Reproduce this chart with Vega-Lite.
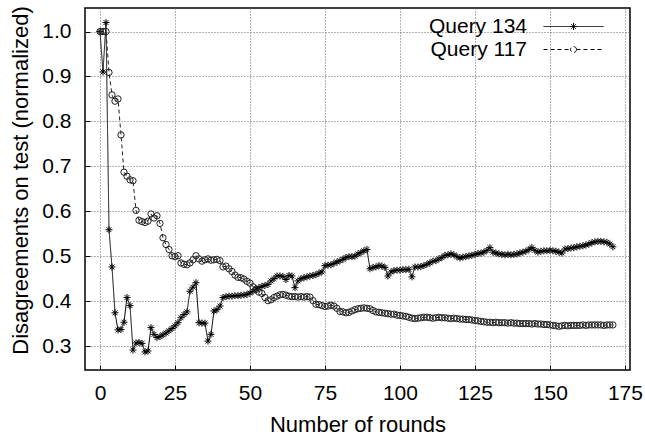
{
  "$schema": "https://vega.github.io/schema/vega-lite/v6.json",
  "width": 545,
  "height": 362,
  "autosize": {"type": "none"},
  "padding": {"left": 85, "top": 8, "right": 15, "bottom": 67},
  "background": "white",
  "config": {
    "font": "Liberation Sans",
    "view": {"stroke": "black", "strokeWidth": 1.5},
    "axis": {
      "domain": false,
      "grid": true,
      "gridColor": "#666",
      "gridDash": [1, 2],
      "gridWidth": 1,
      "gridOpacity": 1,
      "ticks": true,
      "tickColor": "black",
      "tickSize": -5,
      "tickWidth": 1,
      "labelColor": "black",
      "labelFont": "Liberation Sans",
      "labelFontSize": 21,
      "titleColor": "black",
      "titleFont": "Liberation Sans",
      "titleFontSize": 22,
      "titleFontWeight": "normal"
    }
  },
  "datasets": {
    "q134": [
      {"r":0,"v":1.0},{"r":1,"v":0.91},{"r":2,"v":1.02},{"r":3,"v":0.559},{"r":4,"v":0.476},{"r":5,"v":0.374},{"r":6,"v":0.336},{"r":7,"v":0.337},{"r":8,"v":0.353},{"r":9,"v":0.408},
      {"r":10,"v":0.39},{"r":11,"v":0.291},{"r":12,"v":0.307},{"r":13,"v":0.308},{"r":14,"v":0.306},{"r":15,"v":0.287},{"r":16,"v":0.289},{"r":17,"v":0.341},{"r":18,"v":0.326},{"r":19,"v":0.319},
      {"r":20,"v":0.321},{"r":21,"v":0.325},{"r":22,"v":0.329},{"r":23,"v":0.334},{"r":24,"v":0.339},{"r":25,"v":0.345},{"r":26,"v":0.352},{"r":27,"v":0.363},{"r":28,"v":0.37},{"r":29,"v":0.376},
      {"r":30,"v":0.422},{"r":31,"v":0.431},{"r":32,"v":0.441},{"r":33,"v":0.352},{"r":34,"v":0.351},{"r":35,"v":0.351},{"r":36,"v":0.311},{"r":37,"v":0.326},{"r":38,"v":0.378},{"r":39,"v":0.381},
      {"r":40,"v":0.389},{"r":41,"v":0.408},{"r":42,"v":0.41},{"r":43,"v":0.411},{"r":44,"v":0.411},{"r":45,"v":0.412},{"r":46,"v":0.412},{"r":47,"v":0.413},{"r":48,"v":0.414},{"r":49,"v":0.415},
      {"r":50,"v":0.418},{"r":51,"v":0.422},{"r":52,"v":0.427},{"r":53,"v":0.43},{"r":54,"v":0.433},{"r":55,"v":0.435},{"r":56,"v":0.437},{"r":57,"v":0.445},{"r":58,"v":0.45},{"r":59,"v":0.456},
      {"r":60,"v":0.456},{"r":61,"v":0.455},{"r":62,"v":0.448},{"r":63,"v":0.457},{"r":64,"v":0.456},{"r":65,"v":0.43},{"r":66,"v":0.445},{"r":67,"v":0.45},{"r":68,"v":0.452},{"r":69,"v":0.454},
      {"r":70,"v":0.456},{"r":71,"v":0.457},{"r":72,"v":0.459},{"r":73,"v":0.462},{"r":74,"v":0.465},{"r":75,"v":0.479},{"r":76,"v":0.48},{"r":77,"v":0.481},{"r":78,"v":0.484},{"r":79,"v":0.487},
      {"r":80,"v":0.49},{"r":81,"v":0.493},{"r":82,"v":0.497},{"r":83,"v":0.499},{"r":84,"v":0.499},{"r":85,"v":0.5},{"r":86,"v":0.505},{"r":87,"v":0.508},{"r":88,"v":0.512},{"r":89,"v":0.515},
      {"r":90,"v":0.472},{"r":91,"v":0.475},{"r":92,"v":0.476},{"r":93,"v":0.479},{"r":94,"v":0.478},{"r":95,"v":0.475},{"r":96,"v":0.456},{"r":97,"v":0.465},{"r":98,"v":0.468},{"r":99,"v":0.469},
      {"r":100,"v":0.469},{"r":101,"v":0.47},{"r":102,"v":0.47},{"r":103,"v":0.471},{"r":104,"v":0.454},{"r":105,"v":0.476},{"r":106,"v":0.476},{"r":107,"v":0.477},{"r":108,"v":0.479},{"r":109,"v":0.482},
      {"r":110,"v":0.485},{"r":111,"v":0.489},{"r":112,"v":0.49},{"r":113,"v":0.494},{"r":114,"v":0.497},{"r":115,"v":0.502},{"r":116,"v":0.503},{"r":117,"v":0.505},{"r":118,"v":0.503},{"r":119,"v":0.499},
      {"r":120,"v":0.496},{"r":121,"v":0.498},{"r":122,"v":0.499},{"r":123,"v":0.501},{"r":124,"v":0.502},{"r":125,"v":0.504},{"r":126,"v":0.506},{"r":127,"v":0.507},{"r":128,"v":0.509},{"r":129,"v":0.513},
      {"r":130,"v":0.519},{"r":131,"v":0.509},{"r":132,"v":0.507},{"r":133,"v":0.505},{"r":134,"v":0.504},{"r":135,"v":0.503},{"r":136,"v":0.504},{"r":137,"v":0.503},{"r":138,"v":0.504},{"r":139,"v":0.505},
      {"r":140,"v":0.507},{"r":141,"v":0.509},{"r":142,"v":0.511},{"r":143,"v":0.515},{"r":144,"v":0.519},{"r":145,"v":0.513},{"r":146,"v":0.509},{"r":147,"v":0.511},{"r":148,"v":0.512},{"r":149,"v":0.512},
      {"r":150,"v":0.513},{"r":151,"v":0.512},{"r":152,"v":0.511},{"r":153,"v":0.509},{"r":154,"v":0.507},{"r":155,"v":0.516},{"r":156,"v":0.517},{"r":157,"v":0.518},{"r":158,"v":0.519},{"r":159,"v":0.521},
      {"r":160,"v":0.522},{"r":161,"v":0.523},{"r":162,"v":0.525},{"r":163,"v":0.527},{"r":164,"v":0.53},{"r":165,"v":0.532},{"r":166,"v":0.533},{"r":167,"v":0.533},{"r":168,"v":0.532},{"r":169,"v":0.531},
      {"r":170,"v":0.527},{"r":171,"v":0.521}
    ],
    "q117": [
      {"r":0,"v":1.0},{"r":1,"v":1.0},{"r":2,"v":1.0},{"r":3,"v":0.909},{"r":4,"v":0.859},{"r":5,"v":0.845},{"r":6,"v":0.85},{"r":7,"v":0.77},{"r":8,"v":0.687},{"r":9,"v":0.678},
      {"r":10,"v":0.67},{"r":11,"v":0.668},{"r":12,"v":0.602},{"r":13,"v":0.58},{"r":14,"v":0.577},{"r":15,"v":0.575},{"r":16,"v":0.578},{"r":17,"v":0.594},{"r":18,"v":0.585},{"r":19,"v":0.59},
      {"r":20,"v":0.573},{"r":21,"v":0.541},{"r":22,"v":0.526},{"r":23,"v":0.515},{"r":24,"v":0.501},{"r":25,"v":0.499},{"r":26,"v":0.501},{"r":27,"v":0.485},{"r":28,"v":0.482},{"r":29,"v":0.481},
      {"r":30,"v":0.485},{"r":31,"v":0.492},{"r":32,"v":0.501},{"r":33,"v":0.494},{"r":34,"v":0.489},{"r":35,"v":0.492},{"r":36,"v":0.494},{"r":37,"v":0.491},{"r":38,"v":0.492},{"r":39,"v":0.493},
      {"r":40,"v":0.49},{"r":41,"v":0.476},{"r":42,"v":0.478},{"r":43,"v":0.472},{"r":44,"v":0.466},{"r":45,"v":0.458},{"r":46,"v":0.453},{"r":47,"v":0.452},{"r":48,"v":0.449},{"r":49,"v":0.444},
      {"r":50,"v":0.44},{"r":51,"v":0.432},{"r":52,"v":0.426},{"r":53,"v":0.42},{"r":54,"v":0.417},{"r":55,"v":0.408},{"r":56,"v":0.401},{"r":57,"v":0.403},{"r":58,"v":0.408},{"r":59,"v":0.411},
      {"r":60,"v":0.414},{"r":61,"v":0.415},{"r":62,"v":0.413},{"r":63,"v":0.411},{"r":64,"v":0.41},{"r":65,"v":0.41},{"r":66,"v":0.409},{"r":67,"v":0.41},{"r":68,"v":0.409},{"r":69,"v":0.41},
      {"r":70,"v":0.409},{"r":71,"v":0.401},{"r":72,"v":0.393},{"r":73,"v":0.392},{"r":74,"v":0.39},{"r":75,"v":0.388},{"r":76,"v":0.389},{"r":77,"v":0.391},{"r":78,"v":0.389},{"r":79,"v":0.384},
      {"r":80,"v":0.377},{"r":81,"v":0.376},{"r":82,"v":0.374},{"r":83,"v":0.375},{"r":84,"v":0.378},{"r":85,"v":0.381},{"r":86,"v":0.383},{"r":87,"v":0.384},{"r":88,"v":0.385},{"r":89,"v":0.384},
      {"r":90,"v":0.383},{"r":91,"v":0.379},{"r":92,"v":0.376},{"r":93,"v":0.375},{"r":94,"v":0.374},{"r":95,"v":0.373},{"r":96,"v":0.372},{"r":97,"v":0.371},{"r":98,"v":0.371},{"r":99,"v":0.369},
      {"r":100,"v":0.368},{"r":101,"v":0.367},{"r":102,"v":0.366},{"r":103,"v":0.364},{"r":104,"v":0.362},{"r":105,"v":0.361},{"r":106,"v":0.362},{"r":107,"v":0.363},{"r":108,"v":0.364},{"r":109,"v":0.364},
      {"r":110,"v":0.363},{"r":111,"v":0.362},{"r":112,"v":0.363},{"r":113,"v":0.364},{"r":114,"v":0.363},{"r":115,"v":0.363},{"r":116,"v":0.362},{"r":117,"v":0.361},{"r":118,"v":0.362},{"r":119,"v":0.361},
      {"r":120,"v":0.36},{"r":121,"v":0.36},{"r":122,"v":0.359},{"r":123,"v":0.359},{"r":124,"v":0.358},{"r":125,"v":0.357},{"r":126,"v":0.356},{"r":127,"v":0.355},{"r":128,"v":0.354},{"r":129,"v":0.353},
      {"r":130,"v":0.353},{"r":131,"v":0.352},{"r":132,"v":0.353},{"r":133,"v":0.352},{"r":134,"v":0.352},{"r":135,"v":0.352},{"r":136,"v":0.351},{"r":137,"v":0.352},{"r":138,"v":0.351},{"r":139,"v":0.351},
      {"r":140,"v":0.35},{"r":141,"v":0.35},{"r":142,"v":0.35},{"r":143,"v":0.35},{"r":144,"v":0.349},{"r":145,"v":0.35},{"r":146,"v":0.349},{"r":147,"v":0.349},{"r":148,"v":0.348},{"r":149,"v":0.348},
      {"r":150,"v":0.347},{"r":151,"v":0.346},{"r":152,"v":0.345},{"r":153,"v":0.344},{"r":154,"v":0.345},{"r":155,"v":0.346},{"r":156,"v":0.345},{"r":157,"v":0.346},{"r":158,"v":0.346},{"r":159,"v":0.346},
      {"r":160,"v":0.346},{"r":161,"v":0.347},{"r":162,"v":0.346},{"r":163,"v":0.347},{"r":164,"v":0.347},{"r":165,"v":0.347},{"r":166,"v":0.347},{"r":167,"v":0.347},{"r":168,"v":0.346},{"r":169,"v":0.347},
      {"r":170,"v":0.347},{"r":171,"v":0.347}
    ]
  },
  "encoding": {
    "x": {
      "field": "r", "type": "quantitative",
      "scale": {"domain": [-5, 176.7], "nice": false, "zero": false},
      "axis": {"title": "Number of rounds", "values": [0, 25, 50, 75, 100, 125, 150, 175], "labelPadding": 17, "titleY": 61, "titleBaseline": "alphabetic"}
    },
    "y": {
      "field": "v", "type": "quantitative",
      "scale": {"domain": [0.2467, 1.0524], "nice": false, "zero": false},
      "axis": {"title": "Disagreements on test (normalized)", "values": [0.3, 0.4, 0.5, 0.6, 0.7, 0.8, 0.9, 1.0], "format": ".1f", "labelPadding": 19, "titleX": -65, "titleY": 172, "titleBaseline": "middle"}
    }
  },
  "layer": [
    {
      "data": {"name": "q134"},
      "transform": [{"calculate": "'Query 134'", "as": "q"}],
      "mark": {"type": "line", "color": "black", "strokeWidth": 1, "clip": true},
      "encoding": {
        "strokeDash": {
          "field": "q", "type": "nominal",
          "scale": {"domain": ["Query 134", "Query 117"], "range": [[1, 0], [4, 3]]},
          "legend": {
            "title": null,
            "orient": "none",
            "legendX": 478,
            "legendY": 8,
            "padding": 0,
            "labelFont": "Liberation Sans",
            "labelFontSize": 21,
            "labelColor": "black",
            "labelAlign": "right",
            "labelOffset": -57,
            "rowPadding": 1,
            "symbolSize": 100,
            "symbolStrokeColor": "black",
            "symbolStrokeWidth": 1,
            "encode": {
              "symbols": {
                "update": {
                  "shape": {"signal": "datum.value === 'Query 134' ? 'M-6,0L6,0M-0.7,0L0.7,0M0,-0.7L0,0.7M-0.5,-0.5L0.5,0.5M-0.5,0.5L0.5,-0.5' : 'M-6,0L-0.6,0M0.6,0L6,0M0.6,0A0.6,0.6 0 1,1 -0.6,0A0.6,0.6 0 1,1 0.6,0'"},
                  "stroke": {"value": "black"},
                  "fill": {"value": "transparent"},
                  "strokeWidth": {"value": 1}
                }
              }
            }
          }
        }
      }
    },
    {
      "data": {"name": "q134"},
      "mark": {"type": "point", "shape": "M-1,0L1,0M0,-1L0,1M-0.7,-0.7L0.7,0.7M-0.7,0.7L0.7,-0.7", "size": 49, "filled": false, "color": "black", "strokeWidth": 1, "opacity": 1, "clip": true}
    },
    {
      "data": {"name": "q117"},
      "transform": [{"calculate": "'Query 117'", "as": "q"}],
      "mark": {"type": "line", "color": "#222", "strokeWidth": 1, "clip": true},
      "encoding": {
        "strokeDash": {"field": "q", "type": "nominal"}
      }
    },
    {
      "data": {"name": "q117"},
      "mark": {"type": "point", "shape": "circle", "size": 40, "filled": false, "color": "#222", "strokeWidth": 1, "opacity": 1, "clip": true}
    }
  ]
}
